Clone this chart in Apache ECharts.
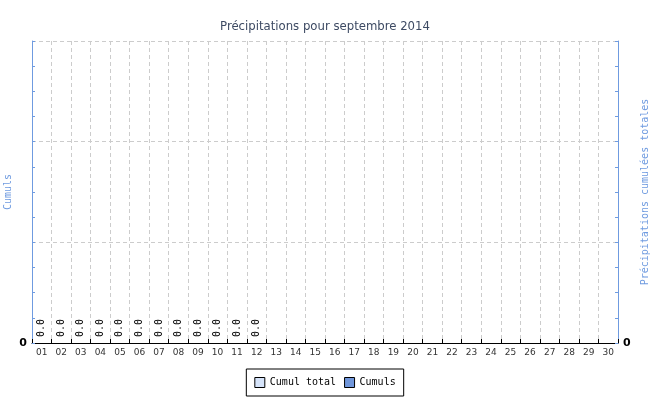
<!DOCTYPE html>
<html><head><meta charset="utf-8">
<script src="https://cdn.jsdelivr.net/npm/echarts@6/dist/echarts.min.js"></script>
<style>html,body{margin:0;padding:0;background:#fff}#c{width:650px;height:400px}</style>
</head><body><div id="c"></div>
<script>
const days = ['01','02','03','04','05','06','07','08','09','10','11','12','13','14','15','16','17','18','19','20','21','22','23','24','25','26','27','28','29','30'];
const cumuls = [0,0,0,0,0,0,0,0,0,0,0,0,null,null,null,null,null,null,null,null,null,null,null,null,null,null,null,null,null,null];
const cumulTotal = [0,0,0,0,0,0,0,0,0,0,0,0,null,null,null,null,null,null,null,null,null,null,null,null,null,null,null,null,null,null];

const blue = '#6f9be0';
const chart = echarts.init(document.getElementById('c'), null, {renderer:'canvas'});
const yAxisBase = (pos, name, nameGap) => ({
  type:'value', position:pos, min:0, max:3, interval:1,
  name:name, nameLocation:'middle', nameGap:nameGap, nameRotate:90, nameMoveOverlap:false,
  nameTextStyle:{color:blue, fontFamily:'DejaVu Sans Mono', fontSize:10},
  axisLine:{show:true, lineStyle:{color:blue, width:1}},
  axisTick:{show:true, inside:true, length:3, lineStyle:{color:blue}},
  minorTick:{show:true, splitNumber:4, length:3, lineStyle:{color:blue}},
  axisLabel:{formatter:v=> v===0?'0':'', color:'#000', fontWeight:'bold', fontSize:11, fontFamily:'DejaVu Sans', margin:5},
  splitLine:{show:pos==='left', lineStyle:{color:'#cccccc', type:[4,3]}}
});
chart.setOption({
  animation:false,
  title:{text:'Précipitations pour septembre 2014', left:'center', top:15,
    textStyle:{fontSize:13, fontWeight:'normal', color:'#3d4a63', fontFamily:'DejaVu Sans Condensed'}},
  legend:{bottom:4, left:'center', data:['Cumul total','Cumuls'],
    borderColor:'#000', borderWidth:1, padding:[8,8,8,8], itemGap:8,
    itemWidth:10, itemHeight:10, icon:'rect',
    itemStyle:{borderColor:'#000', borderWidth:1},
    textStyle:{fontFamily:'DejaVu Sans Mono', fontSize:10, color:'#000'}},
  grid:{left:32, right:32, top:41, bottom:57, containLabel:false, outerBoundsMode:'none'},
  xAxis:{type:'category', data:days, boundaryGap:true,
    axisLine:{lineStyle:{color:'#000'}},
    axisTick:{show:true, inside:true, length:4, alignWithLabel:false, lineStyle:{color:'#000'}},
    axisLabel:{color:'#333', fontSize:9, fontFamily:'DejaVu Sans', margin:5},
    splitLine:{show:true, lineStyle:{color:'#cccccc', type:[4,3]}}},
  yAxis:[yAxisBase('left','Cumuls',19), yAxisBase('right','Précipitations cumulées totales',22)],
  series:[
    {name:'Cumul total', type:'bar', yAxisIndex:1, data:cumulTotal,
     itemStyle:{color:'#d6e4fa', borderWidth:0}, barGap:'-100%'},
    {name:'Cumuls', type:'bar', yAxisIndex:0, data:cumuls,
     itemStyle:{color:'#7096da', borderWidth:0},
     label:{show:true, position:'top', rotate:90, align:'left', verticalAlign:'middle', distance:6,
       formatter:p=>p.value.toFixed(1), fontFamily:'DejaVu Sans Mono', fontSize:10, color:'#000'}}
  ]
});
</script></body></html>
